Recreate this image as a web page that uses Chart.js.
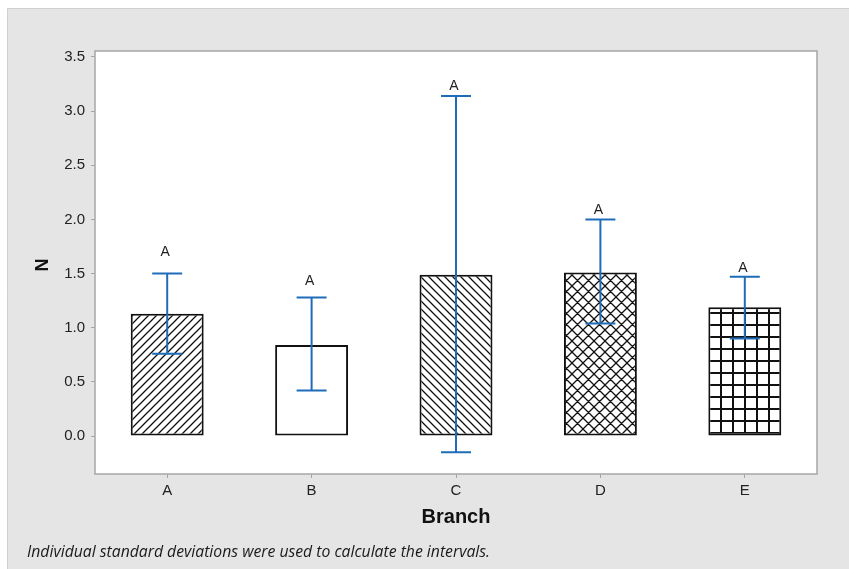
<!DOCTYPE html>
<html>
<head>
<meta charset="utf-8">
<script src="https://cdn.jsdelivr.net/npm/chart.js@4.4.1/dist/chart.umd.min.js"></script>
<style>
  body { margin: 0; background: #ffffff; }
  canvas { display: block; }
</style>
</head>
<body>
<canvas id="myChart" width="849" height="569"></canvas>
<script>
// data
var branches = ['A', 'B', 'C', 'D', 'E'];
var means = [1.13, 0.84, 1.49, 1.51, 1.19];
var upper = [1.50, 1.28, 3.14, 2.00, 1.47];
var lower = [0.76, 0.42, -0.15, 1.04, 0.90];
var groupLetters = ['A', 'A', 'A', 'A', 'A'];
var letterAt = [1.70, 1.43, 3.23, 2.09, 1.55];
var yTicks = [0, 0.5, 1, 1.5, 2, 2.5, 3, 3.5];
var footnote = 'Individual standard deviations were used to calculate the intervals.';

// Helper: hatch patterns
function makePattern(kind) {
    var size = kind === 'grid' ? 12 : (kind === 'cross' ? 11 : 8);
    var c = document.createElement('canvas');
    c.width = size;
    c.height = size;
    var g = c.getContext('2d');
    g.fillStyle = '#ffffff';
    g.fillRect(0, 0, size, size);
    if (kind === 'none') return '#ffffff';
    g.strokeStyle = '#111111';
    g.lineWidth = 1.3;
    g.beginPath();
    if (kind === 'fwd' || kind === 'cross') {
        g.moveTo(-1, size + 1); g.lineTo(size + 1, -1);
        g.moveTo(-1, 1); g.lineTo(1, -1);
        g.moveTo(size - 1, size + 1); g.lineTo(size + 1, size - 1);
    }
    if (kind === 'back' || kind === 'cross') {
        g.moveTo(-1, -1); g.lineTo(size + 1, size + 1);
        g.moveTo(size - 1, -1); g.lineTo(size + 1, 1);
        g.moveTo(-1, size - 1); g.lineTo(1, size + 1);
    }
    if (kind === 'grid') {
        g.lineWidth = 2;
        g.moveTo(1, 0); g.lineTo(1, size);
        g.moveTo(0, 1); g.lineTo(size, 1);
    }
    g.stroke();
    return g.createPattern(c, 'repeat');
}

var fills = ['fwd', 'none', 'back', 'cross', 'grid'].map(makePattern);

var frame = {
    id: 'frame',
    beforeDraw: function(chart) {
        var ctx = chart.ctx, a = chart.chartArea;
        ctx.save();
        ctx.fillStyle = '#ffffff';
        ctx.fillRect(0, 0, chart.width, chart.height);
        ctx.fillStyle = '#e5e5e5';
        ctx.fillRect(7, 8, chart.width - 7, chart.height - 8);
        ctx.strokeStyle = '#cfcfcf';
        ctx.lineWidth = 1;
        ctx.beginPath();
        ctx.moveTo(7.5, chart.height);
        ctx.lineTo(7.5, 8.5);
        ctx.lineTo(chart.width, 8.5);
        ctx.stroke();
        ctx.fillStyle = '#ffffff';
        ctx.fillRect(a.left, a.top, a.right - a.left, a.bottom - a.top);
        ctx.restore();
    },
    afterDatasetsDraw: function(chart) {
        var ctx = chart.ctx, a = chart.chartArea;
        var y = chart.scales.y;
        var meta = chart.getDatasetMeta(0);
        ctx.save();
        ctx.strokeStyle = '#a6a6a6';
        ctx.lineWidth = 1.5;
        ctx.strokeRect(a.left, a.top, a.right - a.left, a.bottom - a.top);

        // error bars
        ctx.strokeStyle = '#1f6cb8';
        ctx.lineWidth = 2;
        for (var i = 0; i < branches.length; i++) {
            var x = meta.data[i].x;
            var yt = y.getPixelForValue(upper[i]);
            var yb = y.getPixelForValue(lower[i]);
            ctx.beginPath();
            ctx.moveTo(x, yt); ctx.lineTo(x, yb);
            ctx.moveTo(x - 15, yt); ctx.lineTo(x + 15, yt);
            ctx.moveTo(x - 15, yb); ctx.lineTo(x + 15, yb);
            ctx.stroke();
        }
        // grouping letters
        ctx.fillStyle = '#222222';
        ctx.font = '14px "Liberation Sans", Arial, sans-serif';
        ctx.textAlign = 'center';
        ctx.textBaseline = 'middle';
        for (var j = 0; j < branches.length; j++) {
            ctx.fillText(groupLetters[j], meta.data[j].x - 2, y.getPixelForValue(letterAt[j]));
        }
        ctx.restore();
    },
    afterDraw: function(chart) {
        var ctx = chart.ctx, a = chart.chartArea;
        ctx.save();
        ctx.fillStyle = '#111111';
        ctx.textAlign = 'center';
        ctx.textBaseline = 'middle';
        ctx.font = 'bold 20px "Liberation Sans", Arial, sans-serif';
        ctx.fillText('Branch', (a.left + a.right) / 2, 517);
        ctx.font = 'bold 18px "Liberation Sans", Arial, sans-serif';
        ctx.translate(43, 265);
        ctx.rotate(-Math.PI / 2);
        ctx.fillText('N', 0, 0);
        ctx.restore();

        ctx.save();
        ctx.fillStyle = '#1a1a1a';
        ctx.font = 'italic 16px "Open Sans", sans-serif';
        ctx.textAlign = 'left';
        ctx.textBaseline = 'middle';
        ctx.fillText(footnote, 27, 552, 463);
        ctx.restore();
    }
};

new Chart(document.getElementById('myChart'), {
    type: 'bar',
    data: {
        labels: branches,
        datasets: [{
            data: means,
            backgroundColor: fills,
            borderColor: '#111111',
            borderWidth: 2,
            borderSkipped: false,
            barPercentage: 0.505,
            categoryPercentage: 1
        }]
    },
    options: {
        responsive: false,
        animation: false,
        layout: { padding: { left: 0, top: 51, right: 32, bottom: 55 } },
        plugins: {
            legend: { display: false },
            tooltip: { enabled: false }
        },
        scales: {
            x: {
                grid: { offset: false, drawOnChartArea: false, drawTicks: true, tickLength: 4, color: '#a6a6a6' },
                border: { display: false },
                ticks: { color: '#222222', padding: 4, font: { family: '"Liberation Sans", Arial, sans-serif', size: 15 } },
                afterFit: function(scale) { scale.height = 40; }
            },
            y: {
                min: -0.35,
                max: 3.555,
                grid: { drawOnChartArea: false, drawTicks: true, tickLength: 4, color: '#a6a6a6' },
                border: { display: false },
                afterBuildTicks: function(scale) {
                    scale.ticks = yTicks.map(function(v) { return { value: v }; });
                },
                ticks: {
                    color: '#222222',
                    padding: 6,
                    font: { family: '"Liberation Sans", Arial, sans-serif', size: 15 },
                    callback: function(v) { return Number(v).toFixed(1); }
                },
                afterFit: function(scale) { scale.width = 95; }
            }
        }
    },
    plugins: [frame]
});
</script>
</body>
</html>
